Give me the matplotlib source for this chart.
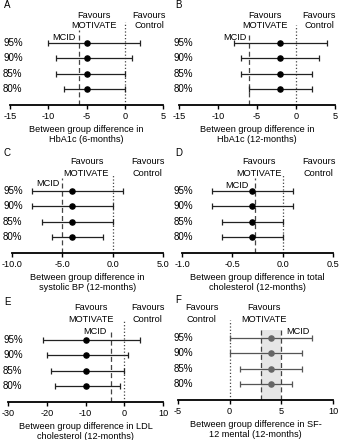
import matplotlib
matplotlib.use("Agg")
import matplotlib.pyplot as plt

plt.rcParams['font.family'] = ['Liberation Sans', 'DejaVu Sans']
plt.rcParams['font.size'] = 6.6

W, H = 341, 440

# datos
niveles = ['95%', '90%', '85%', '80%']

est_A = -5
lo_A = [-10, -9, -9, -8]
hi_A = [2, 1, 0, 0]

est_B = -2
lo_B = [-8, -7, -7, -6]
hi_B = [4, 3, 2, 2]

est_C = -4
lo_C = [-8, -8, -7, -6]
hi_C = [1, 0, 0, -1]

est_D = -0.3
lo_D = [-0.7, -0.7, -0.6, -0.6]
hi_D = [0.1, 0.1, 0.0, 0.0]

est_E = -10
lo_E = [-21, -20, -19, -18]
hi_E = [4, 1, 0, -1]

est_F = 4
lo_F = [0, 0, 1, 1]
hi_F = [8, 7, 7, 6]

mcid = {'A': -6, 'B': -6, 'C': -5, 'D': -0.27, 'E': -3.5, 'F': (3, 5)}

xlabels = {
    'A': 'Between group difference in\nHbA1c (6-months)',
    'B': 'Between group difference in\nHbA1c (12-months)',
    'C': 'Between group difference in\nsystolic BP (12-months)',
    'D': 'Between group difference in total\ncholesterol (12-months)',
    'E': 'Between group difference in LDL\ncholesterol (12-months)',
    'F': 'Between group difference in SF-\n12 mental (12-months)',
}

fig = plt.figure(figsize=(W / 100, H / 100), dpi=100)

ROW = 15.33      # px entre filas
OFF = 16.0       # px desde el eje hasta la fila 80%
AX_H = 95.0


def py(px):
    # pixeles sobre el eje -> coordenada y
    return -OFF / ROW + px / ROW


def panel(letra, x0, x1, yaxis, est, lo, hi, xlim, xticks, fmt,
          pos_mot, pos_con, pos_mcid, mcid_ha, fav_py, mot_py, mcid_py, dash_top, dot_top,
          col='#222222', mcol='black'):
    ax = fig.add_axes([x0 / W, 1 - yaxis / H, (x1 - x0) / W, AX_H / H])
    ax.set_xlim(*xlim)
    ax.set_ylim(py(0), py(AX_H))
    for s in ['top', 'right', 'left']:
        ax.spines[s].set_visible(False)
    ax.spines['bottom'].set_linewidth(1.3)
    ax.set_yticks([])
    ax.set_xticks(xticks)
    ax.set_xticklabels([fmt.format(t) for t in xticks])
    ax.tick_params(axis='x', length=3, width=1, pad=2)
    ax.patch.set_alpha(0)

    filas = [3, 2, 1, 0]
    # linea de no efecto
    ax.vlines(0, py(0), py(dot_top), colors='#444444', linestyles=':', lw=0.9)
    m = mcid[letra]
    if isinstance(m, tuple):
        ax.fill_betweenx([py(0), py(dash_top)], m[0], m[1], color='#e6e6e6', lw=0, zorder=0)
        ax.vlines(list(m), py(0), py(dash_top), colors='#444444', linestyles=(0, (4, 2.5)), lw=0.9)
    else:
        ax.vlines(m, py(0), py(dash_top), colors='#444444', linestyles=(0, (4, 2.5)), lw=0.9)

    for y, a, b in zip(filas, lo, hi):
        ax.errorbar(est, y, xerr=[[est - a], [b - est]], fmt='none', ecolor=col,
                    elinewidth=0.9, capsize=2, capthick=0.9)
        ax.plot(est, y, 'o', color=mcol, ms=3.7, zorder=5)

    # textos
    ax.text(pos_mot, py(fav_py), 'Favours', ha='center', va='center')
    ax.text(pos_mot, py(mot_py), 'MOTIVATE', ha='center', va='center')
    ax.text(pos_con, py(fav_py), 'Favours', ha='center', va='center')
    ax.text(pos_con, py(mot_py), 'Control', ha='center', va='center')
    ax.text(pos_mcid, py(mcid_py), 'MCID', ha=mcid_ha, va='center')

    ax.set_xlabel(xlabels[letra], labelpad=3, linespacing=1.1)

    # etiquetas de fila
    xl = 3 if x0 < 170 else 174
    for i, n in enumerate(niveles):
        ypx = yaxis - OFF - (3 - i) * ROW
        fig.text(xl / W, 1 - ypx / H, n, ha='left', va='center', fontsize=7)
    fig.text((xl + 1) / W, 1 - (yaxis - 100) / H, letra, ha='left', va='center', fontsize=7)
    return ax


panel('A', 10, 163, 105, est_A, lo_A, hi_A, (-15, 5), [-15, -10, -5, 0, 5], '{:g}',
      -4.0, 3.2, -6.4, 'right', 90, 80, 68, 75, 83)
panel('B', 179, 335, 105, est_B, lo_B, hi_B, (-15, 5), [-15, -10, -5, 0, 5], '{:g}',
      -4.0, 3.0, -6.3, 'right', 90, 80, 68, 72, 80)
panel('C', 12, 163, 253, est_C, lo_C, hi_C, (-10, 5), [-10, -5, 0, 5], '{:.1f}',
      -2.6, 3.5, -5.3, 'right', 91, 80, 69, 75, 78)
panel('D', 182, 333, 253, est_D, lo_D, hi_D, (-1, 0.5), [-1.0, -0.5, 0.0, 0.5], '{:.1f}',
      -0.24, 0.36, -0.34, 'right', 91, 80, 68, 75, 78)
panel('E', 8, 163, 402, est_E, lo_E, hi_E, (-30, 10), [-30, -20, -10, 0, 10], '{:g}',
      -8.6, 6.1, -4.5, 'right', 95, 83, 71, 72, 82)
panel('F', 178, 333, 400, est_F, lo_F, hi_F, (-5, 10), [-5, 0, 5, 10], '{:g}',
      3.3, -2.7, 5.5, 'left', 92, 81, 68, 70, 80, col='#555555', mcol='#666666')

fig.savefig('out.png', dpi=100)
